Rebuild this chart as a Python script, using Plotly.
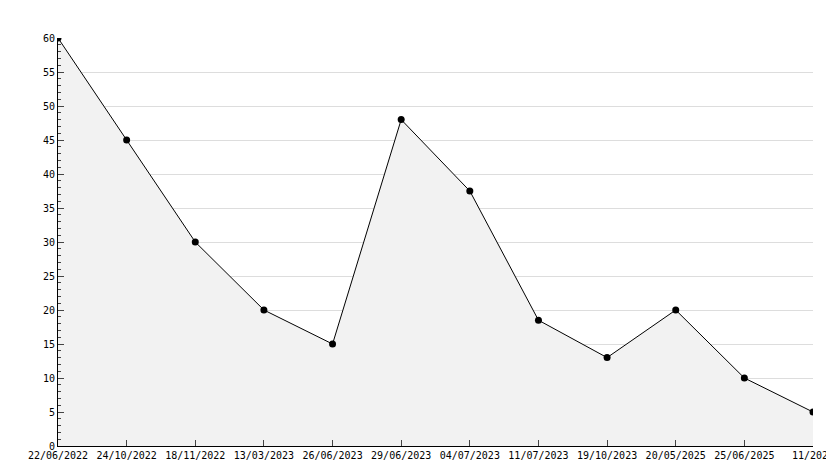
import plotly.graph_objects as go

dates = ['22/06/2022', '24/10/2022', '18/11/2022', '13/03/2023', '26/06/2023', '29/06/2023',
         '04/07/2023', '11/07/2023', '19/10/2023', '20/05/2025', '25/06/2025', '11/2025']
values = [60, 45, 30, 20, 15, 48, 37.5, 18.5, 13, 20, 10, 5]
xs = list(range(len(dates)))

fig = go.Figure(go.Scatter(
    x=xs, y=values, mode='lines+markers', fill='tozeroy',
    fillcolor='#f2f2f2', line=dict(color='black', width=1),
    marker=dict(color='black', size=7, symbol='circle'),
))

fig.update_layout(
    width=834, height=468, showlegend=False,
    plot_bgcolor='white', paper_bgcolor='white',
    margin=dict(l=50, r=29, t=30, b=30, autoexpand=False),
    font=dict(family='DejaVu Sans Mono', size=10, color='black'),
    xaxis=dict(range=[0, 11], tickvals=xs, ticktext=dates, ticks='inside', ticklen=6,
               showgrid=False, showline=True, linecolor='black', zeroline=False,
               tickangle=0, automargin=False),
    yaxis=dict(range=[0, 60], dtick=5, ticks='inside', ticklen=6, showline=True,
               linecolor='black', gridcolor='#dddddd', zeroline=False, automargin=False,
               minor=dict(dtick=1, ticks='inside', ticklen=3, showgrid=False)),
)

fig.write_html('out.html')
